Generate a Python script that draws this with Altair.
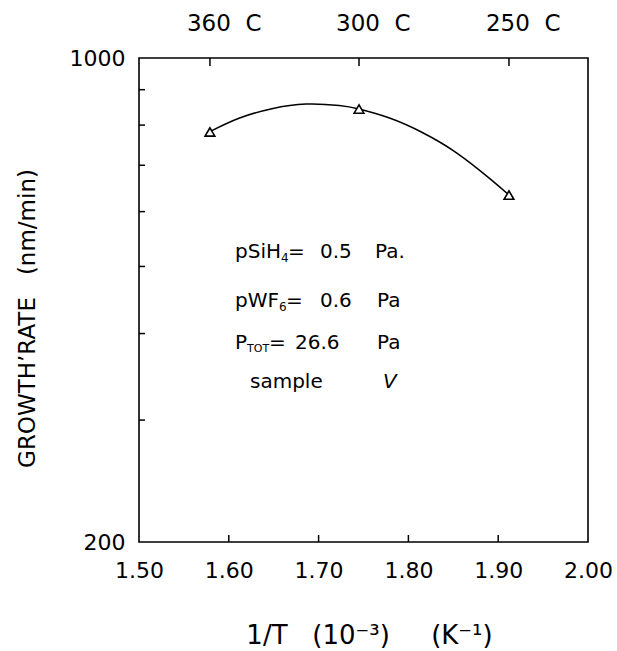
import altair as alt
import pandas as pd

# measured points (1000/T, growth rate nm/min)
inv_T = [1.579, 1.745, 1.912]
rate = [782, 844, 634]

# fitted curve
curve_x = [1.579, 1.612, 1.648, 1.686, 1.723, 1.745, 1.779, 1.816, 1.854, 1.891, 1.912]
curve_y = [783, 819, 845, 858, 854, 844, 819, 780, 729, 669, 634]

NB = "\u00a0"
y_label_vals = [200, 1000]
y_tick_vals = [300, 400, 500, 600, 700, 800, 900]
x_label_vals = [1.5, 1.6, 1.7, 1.8, 1.9, 2.0]
x_tick_vals = [1.6, 1.7, 1.8, 1.9]
top_tick_x = [1.579, 1.745, 1.912]
top_labels = ["360" + NB * 2 + "C", "300" + NB * 2 + "C", "250" + NB * 2 + "C"]
x_title = "1/T" + NB * 3 + "(10⁻³)" + NB * 5 + "(K⁻¹)"
y_title = "GROWTH’RATE" + NB * 3 + "(nm/min)"

FONT = "DejaVu Sans"
W, H = 449, 484

xs = alt.Scale(domain=[1.5, 2.0], nice=False, zero=False)
ys = alt.Scale(type="log", domain=[200, 1000], nice=False)

x_axis = alt.Axis(
    values=x_label_vals, format=".2f", tickSize=0, domain=False, grid=False,
    labelFontSize=22, labelFont=FONT, labelPadding=18, labelFlush=False,
    labelOverlap=False, labelColor="black",
    title=x_title, titleFont=FONT, titleFontSize=26,
    titleFontWeight="normal", titleColor="black",
    titleX=230, titleY=93, titleBaseline="middle",
)
y_axis = alt.Axis(
    values=y_label_vals, format="d", tickSize=0, domain=False, grid=False,
    labelFontSize=22, labelFont=FONT, labelPadding=14, labelColor="black",
    labelOverlap=False, labelFlush=False,
    title=y_title, titleFont=FONT, titleFontSize=23,
    titleFontWeight="normal", titleColor="black",
    titleX=-112, titleY=260, titleBaseline="middle",
)

curve_df = pd.DataFrame({"x": curve_x, "y": curve_y})
pts_df = pd.DataFrame({"x": inv_T, "y": rate})

line = alt.Chart(curve_df).mark_line(color="black", strokeWidth=1.5, interpolate="natural").encode(
    x=alt.X("x:Q", scale=xs, axis=x_axis),
    y=alt.Y("y:Q", scale=ys, axis=y_axis),
)
points = alt.Chart(pts_df).mark_point(
    shape="triangle-up", filled=True, fill="white", stroke="black", size=95, strokeWidth=1.6, opacity=1
).encode(
    x=alt.X("x:Q", scale=xs),
    y=alt.Y("y:Q", scale=ys),
)

yt = alt.Chart(pd.DataFrame({"y": y_tick_vals})).mark_rule(color="black", strokeWidth=1.5).encode(
    y=alt.Y("y:Q", scale=ys), x=alt.value(0), x2=alt.value(6)
)
xt = alt.Chart(pd.DataFrame({"x": x_tick_vals})).mark_rule(color="black", strokeWidth=1.5).encode(
    x=alt.X("x:Q", scale=xs), y=alt.value(H), y2=alt.value(H - 7)
)
tt = alt.Chart(pd.DataFrame({"x": top_tick_x})).mark_rule(color="black", strokeWidth=1.5).encode(
    x=alt.X("x:Q", scale=xs), y=alt.value(0), y2=alt.value(8)
)
tl = alt.Chart(pd.DataFrame({"x": top_tick_x, "t": top_labels})).mark_text(
    align="left", baseline="middle", dx=-23, fontSize=23, font=FONT, color="black"
).encode(
    x=alt.X("x:Q", scale=xs), y=alt.value(-34), text="t:N"
)

one = pd.DataFrame({"k": [0]})


def txt(s, x, y, size=20, italic=False):
    return alt.Chart(one).mark_text(
        align="left", baseline="middle", fontSize=size, font=FONT, color="black",
        fontStyle="italic" if italic else "normal",
    ).encode(x=alt.value(x), y=alt.value(y), text=alt.value(s))


ann = [
    txt("pSiH", 96, 194), txt("4", 142, 200, 12), txt("=", 149, 194),
    txt("0.5", 181, 194), txt("Pa.", 236, 194),
    txt("pWF", 96, 243), txt("6", 140, 249, 12), txt("=", 147, 243),
    txt("0.6", 181, 243), txt("Pa", 238, 243),
    txt("P", 96, 285), txt("TOT", 108, 291, 11), txt("=", 130, 285),
    txt("26.6", 156, 285), txt("Pa", 238, 285),
    txt("sample", 111, 324), txt("V", 244, 324, 20, True),
]

chart = alt.layer(line, points, yt, xt, tt, tl, *ann).properties(
    width=W, height=H,
    padding={"left": 139, "top": 58, "right": 29, "bottom": 109},
    autosize=alt.AutoSizeParams(type="none"),
).configure_view(stroke="black", strokeWidth=1.6)

chart.save("out.html", embed_options={"renderer": "svg", "actions": False})
